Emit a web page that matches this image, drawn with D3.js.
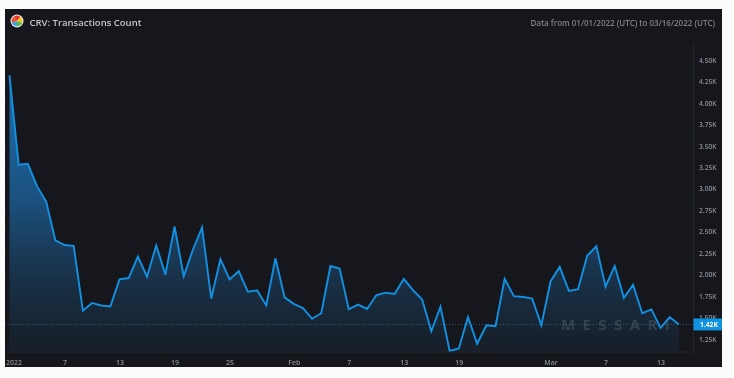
<!DOCTYPE html>
<html>
<head>
	<title>CRV: Transactions Count</title>
<script src="https://d3js.org/d3.v7.min.js"></script>
<style type="text/css">
	html, body { margin: 0; padding: 0; background: #fcfcfc; }
	svg { display: block; filter: blur(0.6px); }
	text { font-family: "Open Sans", "Noto Sans", sans-serif; }
</style>
</head>
<body>
<script type="text/javascript">

var width = 734,
	height = 378;

// one value per day from 2022-01-01, in thousands of transactions
var startDate = "2022-01-01";
var counts = [
	4.32, 3.28, 3.29, 3.03, 2.85, 2.40, 2.345, 2.335, 1.58, 1.67,
	1.64, 1.63, 1.945, 1.96, 2.21, 1.975, 2.34, 2.00, 2.56, 1.98,
	2.29, 2.55, 1.72, 2.18, 1.945, 2.04, 1.80, 1.817, 1.64, 2.19,
	1.735, 1.66, 1.61, 1.485, 1.55, 2.10, 2.07, 1.595, 1.65, 1.60,
	1.76, 1.79, 1.775, 1.95, 1.82, 1.71, 1.34, 1.626, 1.11, 1.14,
	1.506, 1.195, 1.41, 1.40, 1.95, 1.75, 1.74, 1.72, 1.41, 1.92,
	2.09, 1.81, 1.83, 2.22, 2.33, 1.86, 2.10, 1.73, 1.88, 1.55,
	1.595, 1.38, 1.506, 1.42
];

var yTicks = [1.25, 1.50, 1.75, 2.00, 2.25, 2.50, 2.75, 3.00, 3.25, 3.50, 3.75, 4.00, 4.25, 4.50];
var xTickDates = ["2022-01-01", "2022-01-07", "2022-01-13", "2022-01-19", "2022-01-25", "2022-02-01",
	"2022-02-07", "2022-02-13", "2022-02-19", "2022-03-01", "2022-03-07", "2022-03-13"];
var xTickLabels = ["2022", "7", "13", "19", "25", "Feb", "7", "13", "19", "Mar", "7", "13"];
var gridValues = [1.75, 2.00, 2.25, 2.50, 2.75, 3.00, 3.25, 3.50, 3.75, 4.00, 4.25, 4.50];

var titleText = "CRV: Transactions Count";
var rangeText = "Data from 01/01/2022 (UTC) to 03/16/2022 (UTC)";
var lastValue = 1.42;
var lastLabel = "1.42K";
var watermark = "MESSARI";
var logoColors = ["#e8352b", "#f6c21c", "#58b947", "#3f9fe0", "#e8552b"];

var parseDay = d3.utcParse("%Y-%m-%d");
var start = parseDay(startDate);

var data = counts.map(function(v, i) {
	return { date: d3.utcDay.offset(start, i), value: v };
});

var panel = { left: 5, top: 9, right: 722, bottom: 367 };
var plotRight = 693.5,
	plotBottom = 352;

var x = d3.scaleUtc()
	.domain([start, d3.utcDay.offset(start, 73)])
	.range([9.5, 678.9]);

var y = d3.scaleLinear()
	.domain([1.25, 4.5])
	.range([339, 60]);

var svg = d3.select('body').append('svg')
	.attr('width', width)
	.attr('height', height);

var defs = svg.append('defs');

var grad = defs.append('linearGradient')
	.attr('id', 'areaFill')
	.attr('gradientUnits', 'userSpaceOnUse')
	.attr('x1', 0).attr('x2', 0)
	.attr('y1', y(4.32)).attr('y2', plotBottom);
grad.append('stop').attr('offset', '0%').attr('stop-color', '#1f78bd').attr('stop-opacity', 0.95);
grad.append('stop').attr('offset', '45%').attr('stop-color', '#1c5f96').attr('stop-opacity', 0.8);
grad.append('stop').attr('offset', '100%').attr('stop-color', '#1a3a57').attr('stop-opacity', 0.22);

svg.append('rect')
	.attr('x', panel.left)
	.attr('y', panel.top)
	.attr('width', panel.right - panel.left)
	.attr('height', panel.bottom - panel.top)
	.attr('fill', '#16171c');

// faint grid
svg.append('g').selectAll('line')
	.data(gridValues)
	.enter().append('line')
	.attr('x1', panel.left)
	.attr('x2', plotRight)
	.attr('y1', function(d) { return y(d); })
	.attr('y2', function(d) { return y(d); })
	.attr('stroke', '#1d1f25')
	.attr('stroke-dasharray', '2,2');

var area = d3.area()
	.x(function(d) { return x(d.date); })
	.y0(plotBottom)
	.y1(function(d) { return y(d.value); });

var line = d3.line()
	.x(function(d) { return x(d.date); })
	.y(function(d) { return y(d.value); });

svg.append('path')
	.datum(data)
	.attr('d', area)
	.attr('fill', 'url(#areaFill)');

svg.append('text')
	.attr('x', 561)
	.attr('y', y(lastValue) + 5.5)
	.attr('font-size', 15)
	.attr('font-weight', 700)
	.attr('letter-spacing', 7.4)
	.attr('fill', '#ffffff')
	.attr('fill-opacity', 0.13)
	.text(watermark);

// dotted line at the latest value
svg.append('line')
	.attr('x1', panel.left)
	.attr('x2', plotRight)
	.attr('y1', y(lastValue))
	.attr('y2', y(lastValue))
	.attr('stroke', '#3b8fb8')
	.attr('stroke-opacity', 0.55)
	.attr('stroke-dasharray', '1,2');

svg.append('path')
	.datum(data)
	.attr('d', line)
	.attr('fill', 'none')
	.attr('stroke', '#1290e2')
	.attr('stroke-width', 1.9);

// axis frame
svg.append('line')
	.attr('x1', plotRight).attr('x2', plotRight)
	.attr('y1', 45).attr('y2', plotBottom)
	.attr('stroke', '#25272e');
svg.append('line')
	.attr('x1', panel.left).attr('x2', plotRight)
	.attr('y1', plotBottom).attr('y2', plotBottom)
	.attr('stroke', '#25272e');

var yAxis = d3.axisRight(y)
	.tickValues(yTicks)
	.tickSize(0)
	.tickPadding(5.5)
	.tickFormat(function(d) { return d3.format(".2f")(d) + "K"; });

var yG = svg.append('g')
	.attr('transform', 'translate(' + plotRight + ',0)')
	.call(yAxis);
yG.select('.domain').remove();
yG.selectAll('text')
	.attr('font-family', '"Open Sans", sans-serif')
	.attr('font-size', 6.7)
	.attr('font-weight', 600)
	.attr('fill', '#8b8e96');

var xAxis = d3.axisBottom(x)
	.tickValues(xTickDates.map(parseDay))
	.tickSize(0)
	.tickPadding(8)
	.tickFormat(function(d, i) { return xTickLabels[i]; });

var xG = svg.append('g')
	.attr('transform', 'translate(0,' + plotBottom + ')')
	.call(xAxis);
xG.select('.domain').remove();
xG.selectAll('text')
	.attr('font-family', '"Open Sans", sans-serif')
	.attr('font-size', 7)
	.attr('font-weight', 600)
	.attr('fill', '#8b8e96');
// first label sits against the panel edge
xG.select('.tick text').attr('dx', 4);

// latest value tag
svg.append('rect')
	.attr('x', plotRight)
	.attr('y', y(lastValue) - 6)
	.attr('width', panel.right - plotRight)
	.attr('height', 12)
	.attr('fill', '#0f93e0');
svg.append('text')
	.attr('x', plotRight + 6.5)
	.attr('y', y(lastValue) + 2.6)
	.attr('font-size', 6.7)
	.attr('font-weight', 700)
	.attr('fill', '#ffffff')
	.text(lastLabel);

// title
svg.append('text')
	.attr('x', 29.5)
	.attr('y', 26)
	.attr('font-size', 9.5)
	.attr('font-weight', 600)
	.attr('fill', '#c4c6ca')
	.text(titleText);

svg.append('text')
	.attr('x', 715)
	.attr('y', 26)
	.attr('text-anchor', 'end')
	.attr('font-size', 8)
	.attr('font-weight', 600)
	.attr('fill', '#7d8087')
	.text(rangeText);

// token logo
var logo = svg.append('g').attr('transform', 'translate(17,21)');
logo.append('circle').attr('r', 6.5).attr('fill', '#f2f2f2');
logo.selectAll('path')
	.data(d3.pie().sort(null).startAngle(-0.6).endAngle(5.68)(logoColors.map(function() { return 1; })))
	.enter().append('path')
	.attr('d', d3.arc().innerRadius(0).outerRadius(5.4))
	.attr('fill', function(d, i) { return logoColors[i]; });

</script>
</body>
</html>
